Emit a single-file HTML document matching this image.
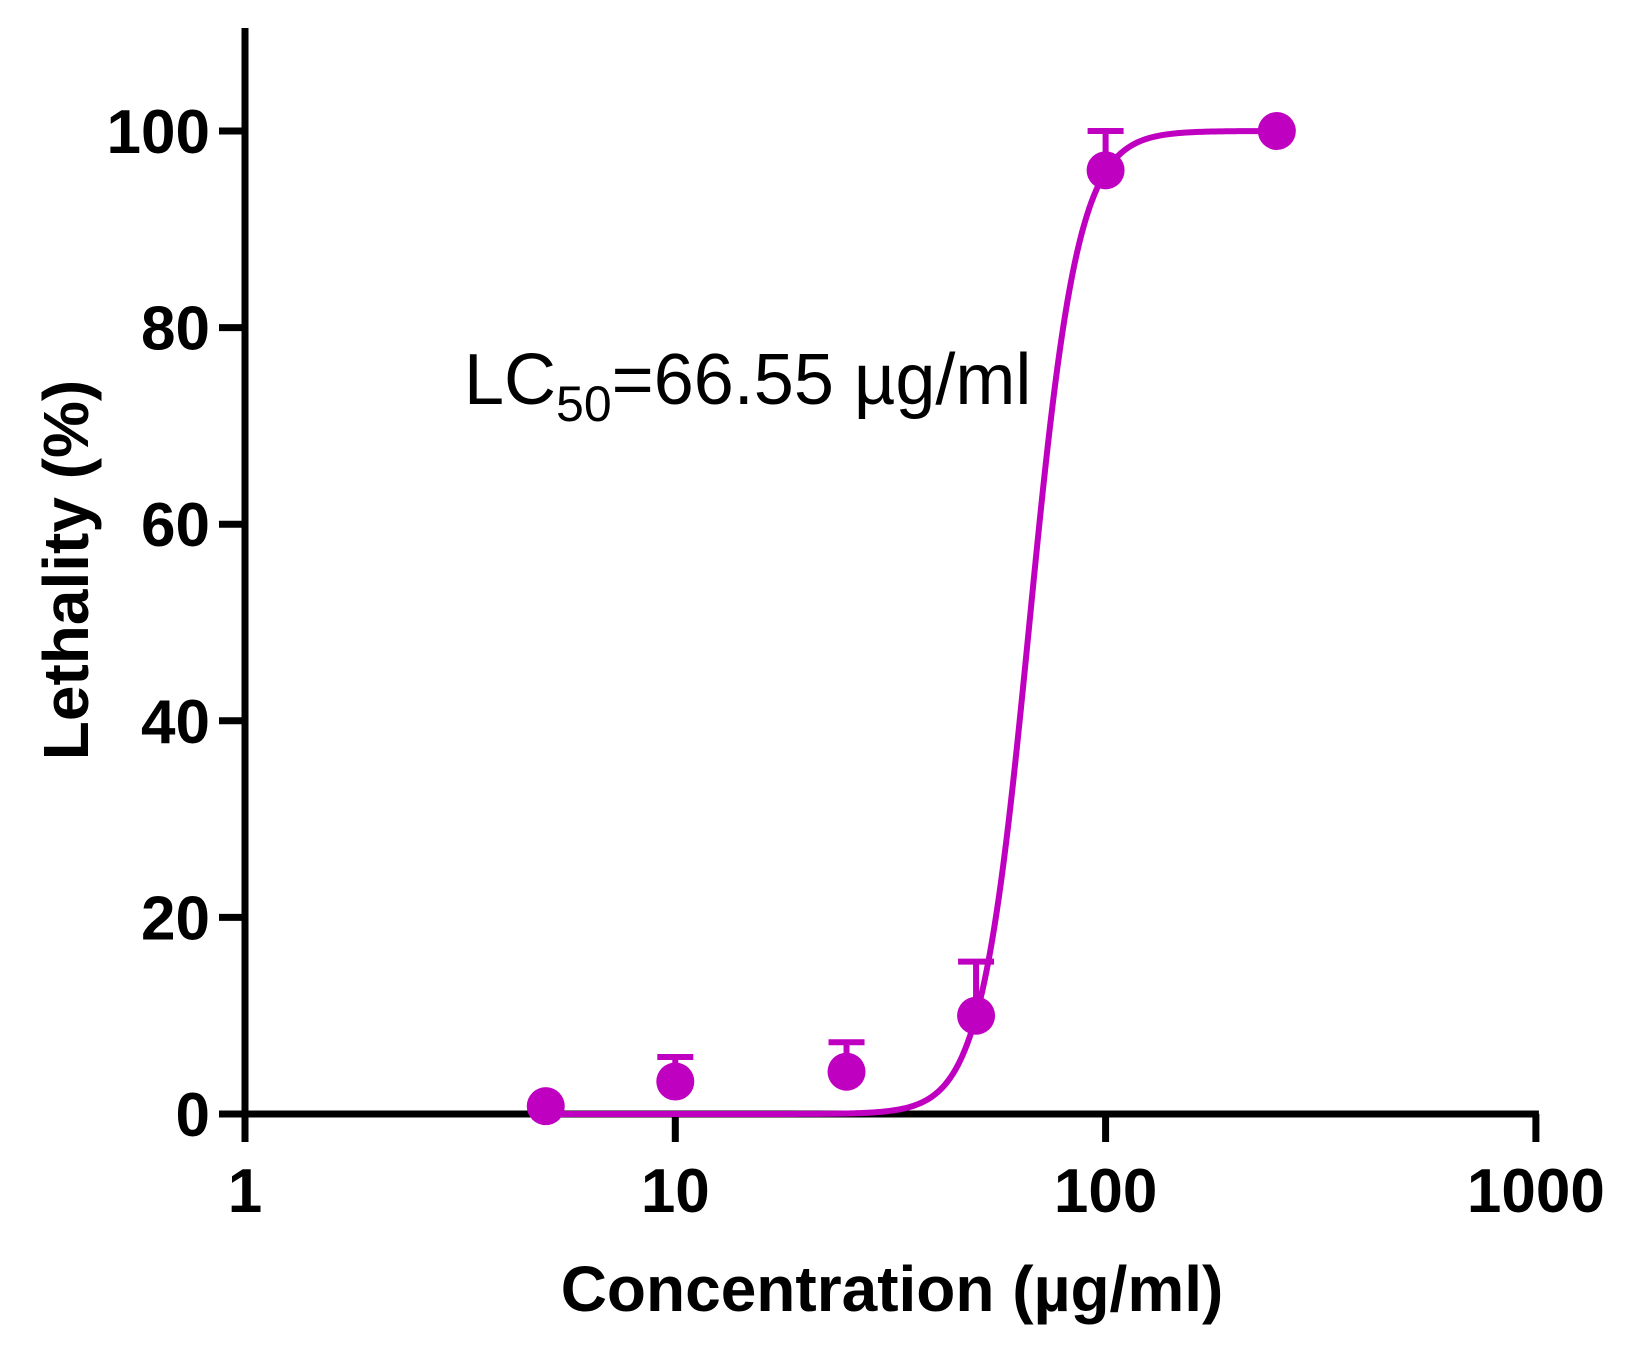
<!DOCTYPE html>
<html><head><meta charset="utf-8"><style>
html,body{margin:0;padding:0;background:#fff;width:1629px;height:1345px;overflow:hidden}
svg text{font-family:"Liberation Sans",Arial,sans-serif}
</style></head><body>
<svg id="chart" width="1629" height="1345" viewBox="0 0 1629 1345" xmlns="http://www.w3.org/2000/svg"></svg>
<script>
const concentrations = [5, 10, 25, 50, 100, 250];
const lethality = [0.8, 3.3, 4.3, 10, 96, 100];
const errorUpper = [0.8, 5.8, 7.3, 15.5, 100, 100];
const yTicks = [0, 20, 40, 60, 80, 100];
const xTicks = [1, 10, 100, 1000];
const xTickLabels = ['1', '10', '100', '1000'];
const lc50 = 66.55;
const hillSlope = 7.7;

const svg = document.getElementById('chart');
const NS = 'http://www.w3.org/2000/svg';
const X0 = 245, XDEC = 430.3, Y0 = 1114, YSCALE = (1114 - 131) / 100;
const COLOR = '#c000c0';
function xs(v){ return X0 + Math.log10(v) * XDEC; }
function ys(v){ return Y0 - v * YSCALE; }
function mk(tag, attrs, parent){
  const e = document.createElementNS(NS, tag);
  for (const k in attrs) e.setAttribute(k, attrs[k]);
  (parent || svg).appendChild(e);
  return e;
}

const yAxis = mk('line', {x1: X0, y1: 28, x2: X0, y2: Y0 + 3, stroke: '#000', 'stroke-width': 7});


const xAxis = mk('line', {x1: 221, y1: Y0, x2: xs(1000) + 3, y2: Y0, stroke: '#000', 'stroke-width': 7});



yTicks.forEach(v => {
  const t = mk('line', {x1: 219, y1: ys(v), x2: X0, y2: ys(v), stroke: '#000', 'stroke-width': 7});
  
  
  const l = mk('text', {x: 210, y: ys(v) + 22, 'text-anchor': 'end', 'font-size': 62, 'font-weight': 'bold'});
  l.textContent = String(v);
  
  
});
xTicks.forEach((v, i) => {
  const t = mk('line', {x1: xs(v), y1: Y0, x2: xs(v), y2: Y0 + 28, stroke: '#000', 'stroke-width': 7});
  
  
  const l = mk('text', {x: xs(v), y: 1212, 'text-anchor': 'middle', 'font-size': 62, 'font-weight': 'bold'});
  l.textContent = xTickLabels[i];
  
  
});

const xt = mk('text', {x: 892, y: 1311, 'text-anchor': 'middle', 'font-size': 64, 'font-weight': 'bold'});
xt.textContent = 'Concentration (µg/ml)';


const yt = mk('text', {x: 0, y: 0, 'text-anchor': 'middle', 'font-size': 64, 'font-weight': 'bold', transform: 'translate(88,570) rotate(-90)'});
yt.textContent = 'Lethality (%)';



let d = '';
const lo = Math.log10(concentrations[0]), hi = Math.log10(concentrations[concentrations.length - 1]);
for (let i = 0; i <= 300; i++) {
  const lx = lo + (hi - lo) * i / 300;
  const x = Math.pow(10, lx);
  const y = 100 / (1 + Math.pow(lc50 / x, hillSlope));
  d += (i ? 'L' : 'M') + xs(x).toFixed(2) + ',' + ys(y).toFixed(2);
}
const curve = mk('path', {d: d, fill: 'none', stroke: COLOR, 'stroke-width': 6});



concentrations.forEach((c, i) => {
  const cx = xs(c);
  if (errorUpper[i] > lethality[i] + 0.5) {
    const eb = mk('path', {d: 'M' + cx + ',' + ys(lethality[i]) + 'V' + ys(errorUpper[i]) + 'M' + (cx - 18) + ',' + ys(errorUpper[i]) + 'H' + (cx + 18), stroke: COLOR, 'stroke-width': 6, fill: 'none'});
    
    
  }
  const p = mk('circle', {cx: cx, cy: ys(lethality[i]), r: 19, fill: COLOR});
  
  
});

const ann = mk('text', {x: 464, y: 404, 'font-size': 72});


const t1 = mk('tspan', {}, ann); t1.textContent = 'LC';
const t2 = mk('tspan', {'font-size': 50, dy: 17}, ann); t2.textContent = '50';
const t3 = mk('tspan', {dy: -17}, ann); t3.textContent = '=66.55 µg/ml';
</script>
</body></html>
